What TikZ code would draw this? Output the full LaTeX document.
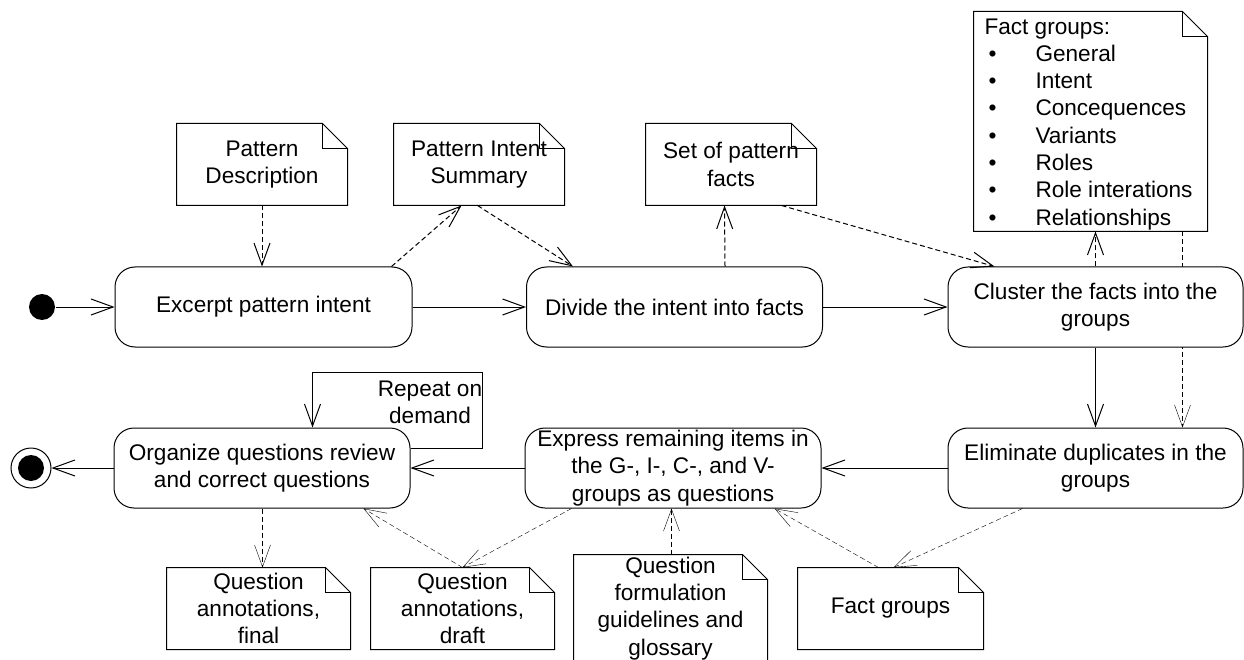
\documentclass[tikz,border=0pt]{standalone}
\usepackage{fontspec}
\setmainfont{Liberation Sans}
\usetikzlibrary{arrows.meta,calc,backgrounds}
\newcommand\myfs{\fontsize{22.6}{27.3}\selectfont}
\newcommand\dogear[1]{%
  \draw ($(#1.north west)$) -- ($(#1.north east)+(-25,0)$) -- ($(#1.north east)+(0,25)$) -- (#1.south east) -- (#1.south west) -- cycle;
  \draw ($(#1.north east)+(-25,0)$) -- ($(#1.north east)+(-25,25)$) -- ($(#1.north east)+(0,25)$);}
\begin{document}
\begin{tikzpicture}[x=1pt,y=-1pt,line width=1pt,
  act/.style={draw, rounded corners=20pt, fill=white, minimum height=80pt, inner sep=0pt, align=center, font=\myfs},
  notebox/.style={inner sep=0pt, align=center, font=\myfs},
  flow/.style={-{Straight Barb[length=22pt,width=16pt]}},
  obj/.style={flow, dash pattern=on 5pt off 3pt},
]
\useasboundingbox (0,0) rectangle (1244,660);

% start / end
\node[circle, fill, minimum size=26pt, inner sep=0pt] (S) at (42,307) {};
\node[circle, draw, minimum size=40pt, inner sep=0pt] (E) at (31,468) {};
\fill (E.center) circle[radius=13pt];

% actions
\node[act, minimum width=297pt] (A1) at (263.5,307) {Excerpt pattern intent};
\node[act, minimum width=296pt] (A2) at (674.5,307) {Divide the intent into facts};
\node[act, minimum width=295pt] (A3) at (1095.5,307) {Cluster the facts into the\\groups};
\node[act, minimum width=295pt] (A4) at (1095.5,468) {Eliminate duplicates in the\\groups};
\node[act, minimum width=296pt] (A5) at (673,468) {Express remaining items in\\the G-, I-, C-, and V-\\groups as questions};
\node[act, minimum width=296pt] (A6) at (262,468) {Organize questions review\\and correct questions};

% notes
\node[notebox, minimum width=170pt, minimum height=81pt] (PD) at (262,164.5) {Pattern\\Description};
\node[notebox, minimum width=170pt, minimum height=81pt] (PIS) at (479,164.5) {Pattern Intent\\Summary};
\node[notebox, minimum width=170pt, minimum height=81pt] (SPF) at (731,164.5) {Set of pattern\\facts};
\node[notebox, minimum width=233pt, minimum height=219pt] (FG) at (1090.5,121.5) {};
\node[inner sep=0pt, align=left, font=\myfs, anchor=north west] (FGt) at (984,18)
  {Fact groups:\\
   \hspace*{4pt}\makebox[47pt][l]{\textbullet}General\\
   \hspace*{4pt}\makebox[47pt][l]{\textbullet}Intent\\
   \hspace*{4pt}\makebox[47pt][l]{\textbullet}Concequences\\
   \hspace*{4pt}\makebox[47pt][l]{\textbullet}Variants\\
   \hspace*{4pt}\makebox[47pt][l]{\textbullet}Roles\\
   \hspace*{4pt}\makebox[47pt][l]{\textbullet}Role interations\\
   \hspace*{4pt}\makebox[47pt][l]{\textbullet}Relationships};
\node[notebox, minimum width=183pt, minimum height=81pt] (QF) at (258.5,608.5) {Question\\annotations,\\final};
\node[notebox, minimum width=183pt, minimum height=81pt] (QD) at (462.5,608.5) {Question\\annotations,\\draft};
\node[notebox, minimum width=193pt, minimum height=107pt] (QG) at (670.5,608.5) {Question\\formulation\\guidelines and\\glossary};
\node[notebox, minimum width=185pt, minimum height=81pt] (FGB) at (890.5,608.5) {Fact groups};
\foreach \n in {PD,PIS,SPF,FG,QF,QD,QG,FGB} {\dogear{\n}}

% control flow
\draw[flow] (S) -- (A1.west);
\draw[flow] (A1.east) -- (A2.west);
\draw[flow] (A2.east) -- (A3.west);
\draw[flow] (A3.south) -- (A4.north);
\draw[flow] (A4.west) -- (A5.east);
\draw[flow] (A5.west) -- (A6.east);
\draw[flow] (A6.west) -- (E);
\draw[flow] ($(A6.east)+(0,-20)$) -- ++(72,0) |- ($(A6.north west)+(199,-55)$) -- ($(A6.north west)+(199,0)$);
\node[inner sep=0pt, align=center, font=\myfs] (RL) at (430,402) {Repeat on\\demand};

% object flows
\draw[obj] (PD.south) -- (PD.south |- A1.north);
\draw[obj] ($(A1.north west)+(277,0)$) -- ($(PIS.south west)+(68,0)$);
\draw[obj] ($(PIS.south west)+(84,0)$) -- ($(A2.north west)+(47,0)$);
\draw[obj] ($(A2.north west)+(199,0)$) -- ($(SPF.south west)+(79,0)$);
\draw[obj] ($(SPF.south west)+(136,0)$) -- ($(A3.north west)+(47,0)$);
\draw[obj] ($(A3.north west)+(148,0)$) -- ($(FG.south west)+(122,0)$);
\begin{pgfonlayer}{background}
\draw[obj] ($(FG.south west)+(209,0)$) -- ($(A4.north west)+(235,0)$);
\end{pgfonlayer}
\draw[obj] ($(A4.south west)+(75,0)$) -- ($(FGB.north west)+(96,0)$);
\draw[obj] ($(FGB.north west)+(81,0)$) -- ($(A5.south west)+(250,0)$);
\draw[obj] ($(QG.north west)+(98,0)$) -- ($(A5.south west)+(147,0)$);
\draw[obj] ($(A5.south west)+(47,0)$) -- ($(QD.north west)+(92,0)$);
\draw[obj] ($(QD.north west)+(92,0)$) -- ($(A6.south west)+(250,0)$);
\draw[obj] ($(A6.south west)+(149,0)$) -- ($(QF.north west)+(96,0)$);
\end{tikzpicture}
\end{document}
